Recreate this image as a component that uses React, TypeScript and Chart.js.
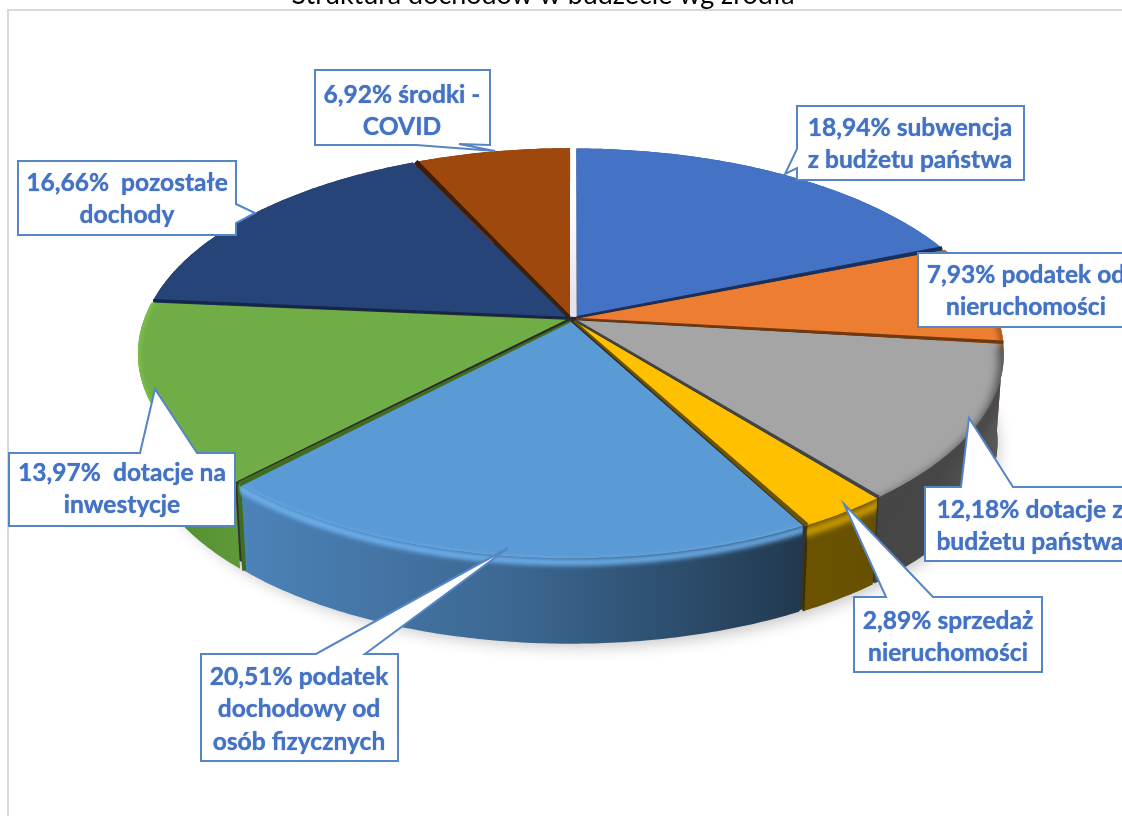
import React, { useEffect, useRef } from "react";
import { Chart, registerables } from "chart.js";

Chart.register(...registerables);

const title = "Struktura dochodów w budżecie wg źródła";
const categories = [
  "subwencja z budżetu państwa",
  "podatek od nieruchomości",
  "dotacje z budżetu państwa",
  "sprzedaż nieruchomości",
  "podatek dochodowy od osób fizycznych",
  "dotacje na inwestycje",
  "pozostałe dochody",
  "środki - COVID",
];
const values = [18.94, 7.93, 12.18, 2.89, 20.51, 13.97, 16.66, 6.92];
const colors = ["#4472C4", "#ED7D31", "#A5A5A5", "#FFC000", "#5B9BD5", "#70AD47", "#264478", "#9E480E"];
const labelLines = [
  ["18,94% subwencja", "z budżetu państwa"],
  ["7,93% podatek od", "nieruchomości"],
  ["12,18% dotacje z", "budżetu państwa"],
  ["2,89% sprzedaż", "nieruchomości"],
  ["20,51% podatek", "dochodowy od", "osób fizycznych"],
  ["13,97%  dotacje na", "inwestycje"],
  ["16,66%  pozostałe", "dochody"],
  ["6,92% środki -", "COVID"],
];

// ---- projection of the pie disc (style / geometry) ----
const CX = 571, CY = 319, A = 422, B = 197, K = 0.165, H = 89, EXPLODE = 0.012;
const BOTTOM_SCALE = 0.985;
// small perspective correction of the end angle of each slice, in radians
const END_NUDGE = [0, 0, 0.014, 0.017, -0.022, 0, 0, 0];

type Pt = [number, number];
function project(a: number, r: number, h: number, mid: number): Pt {
  const u = r * Math.cos(a) + EXPLODE * Math.cos(mid);
  const v = r * Math.sin(a) + EXPLODE * Math.sin(mid);
  const w = 1 / (1 - K * v);
  const s = h > 40 ? BOTTOM_SCALE : 1;
  return [CX + A * u * w * s, CY + B * v * w * s + h];
}
function arcPts(a0: number, a1: number, h: number, mid: number, r = 1): Pt[] {
  const n = Math.max(8, Math.ceil((a1 - a0) * 90));
  const pts: Pt[] = [];
  for (let i = 0; i <= n; i++) pts.push(project(a0 + ((a1 - a0) * i) / n, r, h, mid));
  return pts;
}
function trace(ctx: CanvasRenderingContext2D, pts: Pt[], close = true) {
  pts.forEach((p, i) => (i ? ctx.lineTo(p[0], p[1]) : ctx.moveTo(p[0], p[1])));
  if (close) ctx.closePath();
}

// wall gradients: x0, x1, stops
const wallStyles: [number, number, string[]][] = [
  [570, 950, ["#2f5597", "#2f5597"]],
  [930, 1005, ["#c0651f", "#d0722a"]],
  [870, 1005, ["#454545", "#484848", "#5a5a5a"]],
  [800, 880, ["#6b5300", "#665000"]],
  [240, 805, ["#4c83b9", "#3b6690", "#21394f"]],
  [135, 245, ["#4d8a2c", "#5f9a39"]],
  [150, 420, ["#1c3360", "#1c3360"]],
  [415, 570, ["#77360a", "#77360a"]],
];
// bevel: colour, y offset, line width, blur
const bevels: ([string, number, number, number] | null)[] = [
  null,
  ["#a85a20", 5, 6, 2],
  ["#464646", 8, 10, 5],
  ["#e9b200", 7, 6, 3],
  ["#72b8f7", 4, 6, 2.5],
  ["#7fc64c", 1, 4, 2],
  null,
  null,
];
// radial separators: colour for the boundary between slice i and i+1, rim width
const separators: [string, number][] = [
  ["#1b2f5c", 4],
  ["#74380f", 3.5],
  ["#444444", 3.5],
  ["#6b5300", 4.5],
  ["#3f6e22", 5],
  ["#14264c", 3],
  ["#3f1d07", 5],
];
// wall seams: index of the boundary, colour, width
const seams: [number, string, number][] = [
  [3, "#3c3000", 2],
  [4, "#3f6e22", 4],
];

const pie3d = {
  id: "pie3d",
  beforeDraw(chart: any) {
    const ctx = chart.ctx as CanvasRenderingContext2D;
    ctx.save();
    ctx.fillStyle = "#ffffff";
    ctx.fillRect(0, 0, chart.width, chart.height);
    ctx.strokeStyle = "#d9d9d9";
    ctx.lineWidth = 2;
    ctx.beginPath();
    ctx.moveTo(1124, 10);
    ctx.lineTo(8, 10);
    ctx.lineTo(8, 818);
    ctx.stroke();
    ctx.fillStyle = "#000000";
    ctx.font = "27px Lato";
    ctx.textAlign = "center";
    ctx.textBaseline = "alphabetic";
    ctx.fillText(title, 543, 4, 503);
    ctx.restore();
  },
  beforeDatasetDraw(chart: any) {
    const ctx = chart.ctx as CanvasRenderingContext2D;
    const arcs = chart.getDatasetMeta(0).data as any[];
    const parts = arcs.map((el, i) => {
      const a0 = el.startAngle + (i > 0 ? END_NUDGE[i - 1] : 0);
      const a1 = el.endAngle + END_NUDGE[i];
      const mid = (el.startAngle + el.endAngle) / 2;
      const start = i === 0 ? a0 + 0.008 : a0;
      const apex = project(0, 0, 0, mid);
      if (i === 0) apex[0] += 3;
      return {
        i, a0, a1, mid,
        top: arcPts(start, a1, 0, mid),
        bottom: arcPts(a0, a1, H, mid),
        apex,
      };
    });
    const order = [0, 7, 1, 6, 2, 5, 3, 4];
    ctx.save();
    // soft floor shadow and dark underside
    ctx.save();
    ctx.shadowColor = "rgba(0,0,0,0.24)";
    ctx.shadowBlur = 16;
    ctx.shadowOffsetY = 6;
    ctx.fillStyle = "#333333";
    ctx.beginPath();
    trace(ctx, arcPts(0, Math.PI * 2, H, 0));
    ctx.fill();
    ctx.restore();
    ctx.fillStyle = "#2a2a2a";
    ctx.beginPath();
    trace(ctx, arcPts(0, Math.PI * 2, 0, 0, 0.99));
    ctx.fill();
    // walls
    for (const idx of order) {
      const p = parts[idx];
      const [x0, x1, stops] = wallStyles[idx];
      const g = ctx.createLinearGradient(x0, 0, x1, 0);
      stops.forEach((c, j) => g.addColorStop(j / (stops.length - 1), c));
      ctx.fillStyle = g;
      ctx.beginPath();
      trace(ctx, [...p.top, ...[...p.bottom].reverse()]);
      ctx.fill();
    }
    // wall seams
    seams.forEach(([i, c, w]) => {
      const p = parts[i];
      ctx.strokeStyle = c;
      ctx.lineWidth = w;
      ctx.beginPath();
      trace(ctx, [project(p.a1, 1, 0, p.mid), project(p.a1, 1, H, p.mid)], false);
      ctx.stroke();
    });
    // light gap between the last and the first slice
    const gap = ctx.createLinearGradient(0, 200, 0, 300);
    gap.addColorStop(0, "#ffffff");
    gap.addColorStop(1, "#e6e4ea");
    ctx.fillStyle = gap;
    ctx.beginPath();
    trace(ctx, [parts[7].apex, parts[7].top[parts[7].top.length - 1], parts[0].top[0], parts[0].apex]);
    ctx.fill();
    // tops
    for (const idx of order) {
      const p = parts[idx];
      ctx.fillStyle = colors[idx];
      ctx.beginPath();
      trace(ctx, [p.apex, ...p.top]);
      ctx.fill();
    }
    // bevels
    for (const idx of order) {
      const b = bevels[idx];
      if (!b) continue;
      const p = parts[idx];
      ctx.save();
      ctx.beginPath();
      trace(ctx, [p.apex, ...p.top]);
      trace(ctx, [...p.top, ...[...p.bottom].reverse()]);
      ctx.clip("nonzero");
      ctx.filter = `blur(${b[3]}px)`;
      ctx.strokeStyle = b[0];
      ctx.lineWidth = b[2];
      ctx.beginPath();
      trace(ctx, arcPts(p.a0 - 0.03, p.a1 + 0.03, b[1], p.mid), false);
      ctx.stroke();
      ctx.restore();
    }
    // radial separators, wedge-shaped: thin at the centre, wider at the rim
    separators.forEach(([c, w], i) => {
      const p = parts[i];
      const q = parts[i + 1];
      const src = i > 4 ? q : p;
      const from = src.apex;
      const to = project(p.a1, 1, 0, src.mid);
      const dx = to[0] - from[0], dy = to[1] - from[1];
      const len = Math.hypot(dx, dy);
      const nx = -dy / len, ny = dx / len;
      ctx.fillStyle = c;
      ctx.beginPath();
      trace(ctx, [
        [from[0] + nx, from[1] + ny],
        [to[0] + (nx * w) / 2, to[1] + (ny * w) / 2],
        [to[0] - (nx * w) / 2, to[1] - (ny * w) / 2],
        [from[0] - nx, from[1] - ny],
      ]);
      ctx.fill();
    });
    ctx.restore();
    return false;
  },
  afterDatasetsDraw(chart: any) {
    const ctx = chart.ctx as CanvasRenderingContext2D;
    ctx.save();
    const outlines: Pt[][] = [
      [[797, 106], [1024, 106], [1024, 180], [797, 180], [797, 168], [785, 174], [797, 149]],
      [[918, 253], [1130, 253], [1130, 327], [918, 327]],
      [[925, 487], [961, 487], [969, 418], [1013, 487], [1130, 487], [1130, 561], [925, 561]],
      [[854, 597], [886, 597], [844, 504], [933, 597], [1042, 597], [1042, 672], [854, 672]],
      [[201, 654], [316, 654], [508, 548], [365, 654], [398, 654], [398, 761], [201, 761]],
      [[9, 453], [140, 453], [155, 389], [197, 453], [235, 453], [235, 526], [9, 526]],
      [[18, 161], [236, 161], [236, 204], [255, 213], [236, 223], [236, 235], [18, 235]],
      [[315, 70], [490, 70], [490, 145], [459, 144], [495, 151], [416, 145], [315, 145]],
    ];
    const textPos: [number, number][] = [
      [910, 128], [1026, 275], [1030, 510], [948, 621], [299, 677], [122, 473], [127, 183], [402, 95],
    ];
    labelLines.forEach((lines, i) => {
      ctx.shadowBlur = 0;
      ctx.fillStyle = "#ffffff";
      ctx.strokeStyle = "#5585c5";
      ctx.lineWidth = 2;
      ctx.lineJoin = "miter";
      ctx.beginPath();
      trace(ctx, outlines[i]);
      ctx.fill();
      ctx.stroke();
      ctx.fillStyle = "#4472C4";
      ctx.font = "bold 24.6px Lato";
      ctx.textAlign = "center";
      ctx.textBaseline = "middle";
      ctx.shadowColor = "#4472C4";
      ctx.shadowBlur = 1;
      lines.forEach((l, j) => ctx.fillText(l, textPos[i][0], textPos[i][1] + j * 32.5));
    });
    ctx.restore();
  },
};

export default function App() {
  const ref = useRef<HTMLCanvasElement>(null);
  useEffect(() => {
    const chart = new Chart(ref.current as HTMLCanvasElement, {
      type: "pie",
      data: { labels: categories, datasets: [{ data: values, backgroundColor: colors, borderWidth: 0 }] },
      options: {
        animation: false,
        responsive: false,
        plugins: { legend: { display: false }, tooltip: { enabled: false }, title: { display: false } },
      },
      plugins: [pie3d],
    } as any);
    return () => chart.destroy();
  }, []);
  return (
    <canvas
      ref={ref}
      width={1122}
      height={816}
      style={{ position: "fixed", left: 0, top: 0, width: 1122, height: 816, display: "block" }}
    />
  );
}
